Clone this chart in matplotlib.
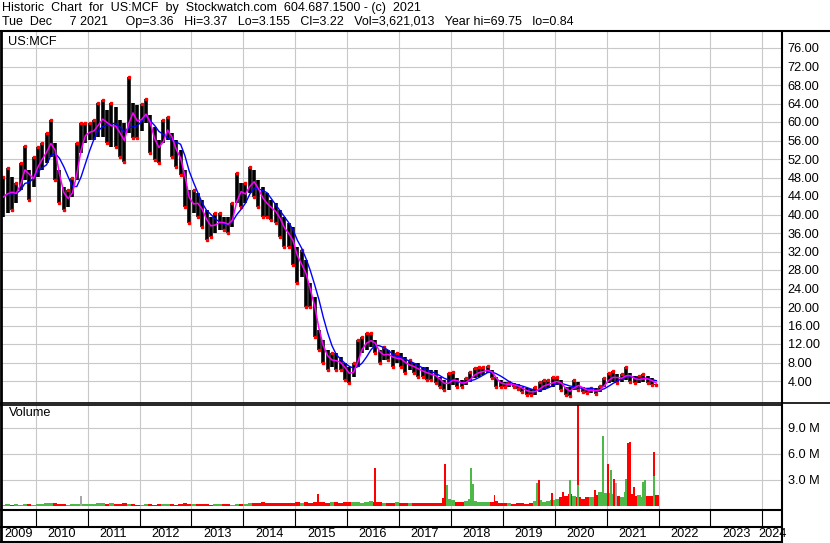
import numpy as np
import pandas as pd
import matplotlib
matplotlib.use('Agg')
import matplotlib.pyplot as plt
from matplotlib.lines import Line2D

plt.rcParams['font.family'] = ['Liberation Sans', 'DejaVu Sans']

# monthly price range, May 2009 .. Dec 2021
months = pd.period_range('2009-05', '2021-12', freq='M')
month_hi = [
    48.1, 50.0, 48.1, 46.8, 51.1, 54.8, 49.6, 52.4,                      # 2009
    54.6, 55.4, 57.6, 60.4, 55.4, 49.6, 46.0, 45.3, 48.0, 55.4, 59.8, 59.8,  # 2010
    59.8, 60.4, 64.1, 64.8, 62.6, 64.1, 63.2, 60.4, 59.8, 69.7, 64.1, 63.7,  # 2011
    64.0, 65.0, 61.5, 58.9, 56.1, 60.4, 61.1, 57.6, 56.1, 54.0, 49.6, 45.3,  # 2012
    45.3, 44.6, 43.1, 41.0, 39.5, 40.3, 40.3, 39.5, 39.5, 42.5, 49.0, 46.8,  # 2013
    46.8, 50.3, 49.6, 47.4, 46.0, 44.6, 43.1, 42.5, 41.0, 39.5, 38.2, 37.3,  # 2014
    33.0, 32.3, 30.2, 25.2, 22.2, 15.0, 12.9, 10.7, 10.1, 10.1, 9.2, 7.9,    # 2015
    7.0, 7.9, 12.9, 13.5, 14.4, 14.4, 12.9, 10.7, 11.4, 10.7, 10.7, 10.1,    # 2016
    10.1, 9.2, 8.5, 7.9, 7.9, 7.0, 7.0, 6.4, 6.4, 4.9, 4.2, 5.7,             # 2017
    5.9, 4.6, 4.2, 4.6, 5.9, 6.8, 7.0, 7.0, 7.2, 6.4, 4.9, 4.2,              # 2018
    3.8, 3.8, 3.6, 3.3, 2.7, 2.5, 2.2, 2.7, 3.8, 4.2, 4.2, 4.9,              # 2019
    4.9, 4.2, 2.7, 2.7, 4.2, 3.8, 2.7, 2.5, 2.5, 2.5, 3.0, 4.6,              # 2020
    5.7, 6.1, 5.5, 5.5, 7.0, 5.7, 5.0, 5.0, 5.5, 5.0, 4.6, 3.4,              # 2021
]
month_lo = [
    39.5, 40.3, 40.9, 42.5, 45.3, 47.4, 43.1, 45.9,
    48.1, 49.6, 51.1, 52.4, 47.4, 42.5, 40.9, 41.6, 43.8, 47.4, 53.3, 55.4,
    56.1, 56.1, 56.8, 56.8, 55.4, 54.6, 54.6, 52.4, 51.4, 57.6, 56.5, 56.5,
    58.0, 59.8, 53.3, 51.8, 51.1, 55.4, 56.1, 52.4, 50.3, 48.5, 41.6, 38.2,
    40.3, 39.5, 37.3, 34.5, 35.1, 36.0, 36.6, 36.6, 36.0, 37.3, 42.5, 41.6,
    42.5, 44.6, 43.8, 41.6, 39.5, 39.5, 38.8, 38.2, 35.1, 33.0, 33.0, 29.0,
    25.2, 26.5, 20.0, 20.0, 13.5, 10.7, 7.9, 6.4, 7.0, 6.4, 6.4, 4.2,
    3.6, 4.9, 7.0, 10.1, 10.7, 11.4, 10.1, 7.9, 8.5, 8.5, 7.0, 7.9,
    7.0, 5.7, 6.4, 5.7, 4.9, 4.9, 4.2, 4.2, 3.6, 2.7, 2.1, 2.1,
    3.1, 2.7, 2.7, 3.1, 3.8, 4.6, 4.9, 5.3, 5.7, 4.6, 2.7, 2.7,
    2.7, 2.7, 2.7, 2.2, 1.6, 1.0, 0.9, 1.0, 1.6, 2.1, 2.5, 2.7,
    3.1, 2.1, 1.0, 0.84, 2.1, 2.1, 1.6, 1.4, 1.4, 1.2, 1.6, 2.7,
    3.6, 3.8, 3.6, 3.8, 4.2, 3.8, 3.6, 3.6, 3.8, 3.6, 3.1, 3.1,
]
# typical monthly volume (millions)
month_vol = [
    0.15, 0.2, 0.15, 0.2, 0.15, 0.2, 0.2, 0.15,
    0.2, 0.25, 0.3, 0.35, 0.3, 0.2, 0.2, 0.15, 0.2, 0.25, 0.2, 0.2,
    0.2, 0.25, 0.3, 0.3, 0.25, 0.3, 0.25, 0.2, 0.3, 0.25, 0.2, 0.15,
    0.15, 0.2, 0.2, 0.15, 0.2, 0.25, 0.2, 0.2, 0.15, 0.25, 0.3, 0.2,
    0.2, 0.25, 0.2, 0.2, 0.15, 0.2, 0.25, 0.2, 0.2, 0.15, 0.2, 0.25,
    0.25, 0.3, 0.35, 0.3, 0.45, 0.4, 0.35, 0.3, 0.35, 0.4, 0.35, 0.4,
    0.45, 0.4, 0.5, 0.4, 0.45, 0.5, 0.45, 0.4, 0.45, 0.5, 0.4, 0.45,
    0.5, 0.45, 0.5, 0.4, 0.45, 0.6, 0.5, 0.45, 0.4, 0.35, 0.4, 0.45,
    0.35, 0.3, 0.3, 0.35, 0.3, 0.35, 0.3, 0.35, 0.3, 0.4, 0.9, 0.8,
    0.7, 0.5, 0.45, 0.6, 0.8, 0.6, 0.45, 0.5, 0.45, 0.5, 0.55, 0.35,
    0.3, 0.3, 0.25, 0.3, 0.3, 0.25, 0.3, 0.6, 0.7, 0.5, 0.6, 0.7,
    0.8, 1.0, 1.2, 1.4, 1.2, 1.0, 0.8, 1.0, 1.0, 1.3, 1.6, 1.5,
    1.5, 1.4, 1.2, 1.0, 1.6, 1.4, 1.2, 1.3, 1.0, 1.2, 1.1, 1.3,
]
# single heavy-volume days
spike_dates = ['2010-11-13', '2015-06-10', '2016-07-16', '2017-11-20', '2017-12-04',
               '2018-05-22', '2018-06-05', '2018-11-03', '2019-09-01', '2019-09-15',
               '2019-12-12', '2020-02-28', '2020-04-17', '2020-06-13', '2020-06-13',
               '2020-10-11', '2020-12-07', '2021-01-10', '2021-01-31', '2021-02-21',
               '2021-03-07', '2021-05-17', '2021-05-31', '2021-06-14', '2021-07-12',
               '2021-09-13', '2021-09-27', '2021-11-29', '2021-11-29']
spike_vols = [1.15, 1.4, 4.35, 4.8, 2.4, 4.4, 2.5, 1.3, 2.6, 3.0,
              1.5, 1.6, 3.0, 12.5, 2.4, 1.8, 8.1, 4.8, 4.2, 3.1,
              2.6, 3.1, 7.3, 7.4, 2.2, 2.8, 3.0, 6.2, 3.5]
spike_colors = ['gray', 'red', 'red', 'red', 'green', 'green', 'green', 'red', 'green', 'red',
                'red', 'red', 'green', 'red', 'green', 'red', 'green', 'red', 'green', 'red',
                'gray', 'green', 'red', 'red', 'red', 'green', 'green', 'red', 'green']

price_ticks = list(range(4, 80, 4))
vol_ticks = [3, 6, 9]
years = list(range(2009, 2025))

# the screen font spaces words widely, hence the extra blanks
title1 = 'Historic  Chart  for  US:MCF  by  Stockwatch.com  604.687.1500 - (c)  2021'
title2 = ('Tue  Dec     7 2021     Op=3.36   Hi=3.37   Lo=3.155   Cl=3.22   '
          'Vol=3,621,013   Year hi=69.75   lo=0.84')

GREEN = '#4cb848'
RED = '#ff0000'
GRAY = '#a8a8a8'
GRID = '#c8c8c8'
cmap = {'green': GREEN, 'red': RED, 'gray': GRAY}

W, H = 830, 543
PX_YEAR = 51.9
X2010 = 35.7


def box(l, t, r, b):
    return [l / W, 1 - b / H, (r - l) / W, (b - t) / H]


def px2yr(px):
    return 2010 + (px - X2010) / PX_YEAR


def fig_line(x0, y0, x1, y1, lw):
    fig.add_artist(Line2D([x0 / W, x1 / W], [1 - y0 / H, 1 - y1 / H],
                          transform=fig.transFigure, color='black', lw=lw,
                          solid_capstyle='butt'))


xm = np.array([p.year + (p.month - 0.5) / 12 for p in months])
hi = np.array(month_hi)
lo = np.array(month_lo)
mid = pd.Series((hi + lo) / 2)
ma_fast = mid.rolling(2, min_periods=1).mean()
ma_slow = mid.rolling(5, min_periods=1).mean()
up = np.r_[True, np.diff(mid.values) >= 0]

sx = np.array([d.year + (d.dayofyear - 0.5) / 365.25 for d in pd.to_datetime(spike_dates)])

xlim = (px2yr(2), px2yr(782))
bounds = list(range(2010, 2025))

fig = plt.figure(figsize=(W / 100, H / 100), dpi=100)
fig.patch.set_facecolor('white')

# price panel
ax = fig.add_axes(box(2, 31, 782, 402.5))
ax.set_xlim(xlim)
ax.set_ylim((399.5 - 402.5) / 4.625, (399.5 - 31) / 4.625)
ax.set_xticks(bounds)
ax.set_yticks(price_ticks)
ax.yaxis.tick_right()
ax.set_yticklabels(['%.2f' % t for t in price_ticks])
ax.tick_params(axis='y', length=0, pad=4, labelsize=9.2)
ax.tick_params(axis='x', length=0, labelbottom=False)
ax.grid(color=GRID, lw=0.8)
ax.set_axisbelow(True)
for s in ax.spines.values():
    s.set_visible(False)

ax.vlines(xm, lo, hi, color='black', lw=2.6, zorder=2)
ax.plot(xm[~up], lo[~up], ls='none', marker='s', ms=1.6, color=RED, zorder=3)
ax.plot(xm[up], hi[up], ls='none', marker='s', ms=1.6, color=RED, zorder=3)
ax.plot(xm, ma_slow, color='#0000ff', lw=1.0, zorder=4)
ax.plot(xm, ma_fast, color='#ff00ff', lw=1.1, zorder=5)

# volume panel
av = fig.add_axes(box(2, 405, 782, 509.5))
av.set_xlim(xlim)
av.set_ylim(-(509.5 - 506) / 8.67, (506 - 405) / 8.67)
av.set_xticks(bounds)
av.set_yticks(vol_ticks)
av.yaxis.tick_right()
av.set_yticklabels(['%.1f M' % t for t in vol_ticks])
av.tick_params(axis='y', length=0, pad=4, labelsize=9.2)
av.tick_params(axis='x', length=0, labelbottom=False)
av.grid(color=GRID, lw=0.8)
av.set_axisbelow(True)
for s in av.spines.values():
    s.set_visible(False)
av.bar(xm, month_vol, width=1 / 12, color=[GREEN if u else RED for u in up], zorder=2)
av.bar(sx, spike_vols, width=0.035, color=[cmap[c] for c in spike_colors], zorder=3)

# date strip
ad = fig.add_axes(box(2, 509.5, 782, 541.5))
ad.set_xlim(xlim)
ad.set_ylim(0, 1)
ad.axis('off')
ad.vlines(bounds, 0.453, 1, color='black', lw=0.8)
for yr in years:
    a = max(yr, xlim[0])
    b = min(yr + 1, xlim[1])
    ad.text((a + b) / 2, 0.22, str(yr), ha='center', va='center', fontsize=9.2)

# frame lines
fig_line(0, 30.5, W, 30.5, 1.5)
fig_line(1, 30, 1, 541.5, 2)
fig_line(782, 30, 782, H, 1.5)
fig_line(0, 402.5, W, 402.5, 1.2)
fig_line(0, 405.3, 782, 405.3, 1.2)
fig_line(0, 509.5, 782, 509.5, 1.5)
fig_line(0, 527, 782, 527, 1.5)
fig_line(0, 541.5, 782, 541.5, 1.5)

# texts
fig.text(2 / W, 1 - 8.5 / H, title1, va='center', fontsize=9)
fig.text(2 / W, 1 - 22 / H, title2, va='center', fontsize=9)
fig.text(8 / W, 1 - 42 / H, 'US:MCF', va='center', fontsize=9.2)
fig.text(9 / W, 1 - 413 / H, 'Volume', va='center', fontsize=9.2)

fig.savefig('out.png', dpi=100)
